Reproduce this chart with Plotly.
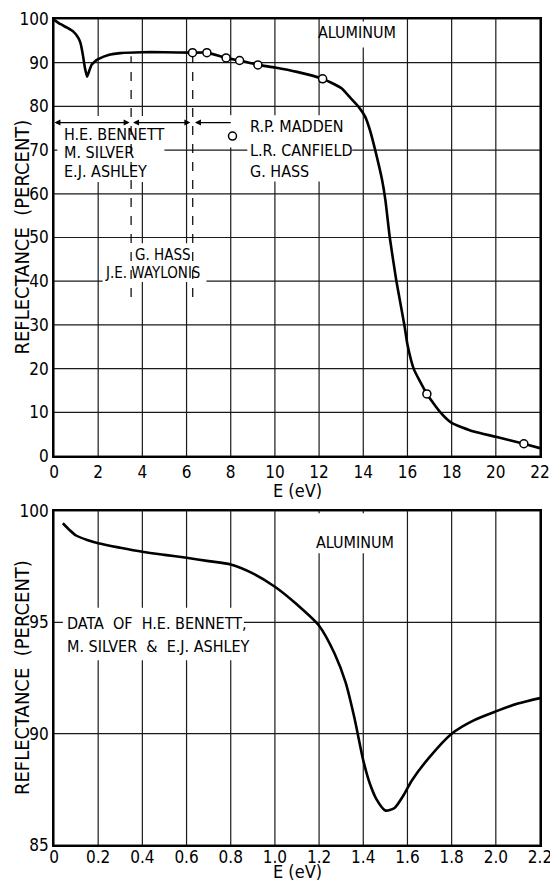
import plotly.graph_objects as go

# ---------------- data ----------------
# Upper panel: reflectance of aluminum vs photon energy (0-22 eV)
top_E = [0, 0.3, 0.6, 0.9, 1.1, 1.2, 1.3, 1.4, 1.5, 1.6, 1.7, 1.85, 2.0, 2.5, 3.0, 4.0, 5.0,
         6.27, 6.92, 7.79, 8.40, 9.23, 10, 11, 12.16, 12.6, 13.03, 13.41, 13.79, 14.09, 14.3,
         14.54, 14.85, 15.0, 15.2, 15.5, 15.86, 16.0, 16.28, 16.88, 17.49, 18, 19, 20, 21.27, 22]
top_R = [99.8, 98.8, 98.0, 97.0, 95.7, 94.5, 92.0, 88.8, 86.8, 88.2, 89.5, 90.3, 90.8, 91.8,
         92.2, 92.4, 92.4, 92.3, 92.3, 91.1, 90.5, 89.5, 88.9, 87.9, 86.3, 85.3, 84.1, 82.0,
         79.9, 77.6, 74.6, 70.0, 63.2, 58.6, 50, 40, 30, 25.5, 20, 14.2, 10, 7.6, 5.6, 4.4,
         2.8, 1.8]
# measured points (Madden, Canfield, Hass)
pts_E = [6.27, 6.92, 7.79, 8.40, 9.23, 12.16, 16.88, 21.27]
pts_R = [92.3, 92.3, 91.1, 90.5, 89.5, 86.3, 14.2, 2.8]
key_E = [8.08]
key_R = [73.2]

# Lower panel: 0-2.2 eV detail (Bennett, Silver, Ashley)
bot_E = [0.04, 0.07, 0.1, 0.15, 0.2, 0.3, 0.4, 0.5, 0.6, 0.7, 0.8, 0.9, 1.0, 1.1, 1.2, 1.27,
         1.32, 1.36, 1.4, 1.43, 1.46, 1.5, 1.54, 1.58, 1.62, 1.7, 1.8, 1.9, 2.0, 2.1, 2.2]
bot_R = [99.45, 99.15, 98.9, 98.7, 98.55, 98.35, 98.17, 98.03, 97.9, 97.75, 97.6, 97.2, 96.6,
         95.8, 94.85, 93.6, 92.3, 90.7, 88.8, 87.75, 87.05, 86.55, 86.65, 87.2, 87.9, 88.95,
         90.0, 90.6, 91.0, 91.35, 91.6]

top_xrange = [0, 22]
top_yrange = [0, 100]
bot_xrange = [0, 2.2]
bot_yrange = [85, 100]
top_xticks = list(range(0, 23, 2))
top_yticks = list(range(0, 101, 10))
bot_xticks = [0, 0.2, 0.4, 0.6, 0.8, 1.0, 1.2, 1.4, 1.6, 1.8, 2.0, 2.2]
bot_xlabels = ["0", "0.2", "0.4", "0.6", "0.8", "1.0", "1.2", "1.4", "1.6", "1.8", "2.0", "2.2"]
bot_yticks = [85, 90, 95, 100]

FONT = "DejaVu Sans Condensed, Liberation Sans Narrow, Arial Narrow, sans-serif"
W, H = 550, 883

fig = go.Figure()


def grid_trace(xt, yt, xr, yr, xa, ya):
    gx, gy = [], []
    for v in xt:
        gx += [v, v, None]
        gy += [yr[0], yr[1], None]
    for v in yt:
        gx += [xr[0], xr[1], None]
        gy += [v, v, None]
    fig.add_trace(go.Scatter(x=gx, y=gy, mode="lines", xaxis=xa, yaxis=ya,
                             line=dict(color="#1a1a1a", width=1.2), connectgaps=False,
                             showlegend=False, hoverinfo="skip"))


def mask(xa, ya, x0, x1, y0, y1):
    # white patch that interrupts the grid behind lettering
    fig.add_trace(go.Scatter(x=[x0, x1, x1, x0, x0], y=[y0, y0, y1, y1, y0], mode="lines",
                             fill="toself", fillcolor="white", line=dict(width=0),
                             xaxis=xa, yaxis=ya, showlegend=False, hoverinfo="skip"))


grid_trace(top_xticks, top_yticks, top_xrange, top_yrange, "x", "y")
grid_trace(bot_xticks, bot_yticks, bot_xrange, bot_yrange, "x2", "y2")

mask("x", "y", 0.15, 5.0, 62.7, 77.8)
mask("x", "y", 7.8, 8.45, 70.6, 78.0)
mask("x", "y", 8.75, 13.5, 62.8, 78.0)
mask("x", "y", 12.2, 15.6, 93.5, 99.4)
mask("x", "y", 2.2, 6.9, 39.8, 48.7)
mask("x2", "y2", 1.17, 1.56, 98.1, 99.9)
mask("x2", "y2", 0.04, 0.86, 93.3, 95.65)

# dashed range markers
dash_x = [3.49, 3.49, None, 6.28, 6.28]
dash_y = [36.4, 91.5, None, 36.4, 91.5]
fig.add_trace(go.Scatter(x=dash_x, y=dash_y, mode="lines", xaxis="x", yaxis="y",
                         line=dict(color="black", width=1.2, dash="dash"),
                         showlegend=False, hoverinfo="skip"))

fig.add_trace(go.Scatter(x=top_E, y=top_R, mode="lines", xaxis="x", yaxis="y",
                         line=dict(color="black", width=2.6, shape="spline", smoothing=0.5),
                         showlegend=False, hoverinfo="skip"))
fig.add_trace(go.Scatter(x=pts_E + key_E, y=pts_R + key_R, mode="markers", xaxis="x", yaxis="y",
                         marker=dict(symbol="circle", size=8, color="white",
                                     line=dict(color="black", width=1.5)),
                         showlegend=False, hoverinfo="skip"))
fig.add_trace(go.Scatter(x=bot_E, y=bot_R, mode="lines", xaxis="x2", yaxis="y2",
                         line=dict(color="black", width=2.6, shape="spline", smoothing=0.7),
                         showlegend=False, hoverinfo="skip"))

axis_common = dict(showgrid=False, showline=True,
                   linecolor="black", linewidth=1.6, mirror=True, ticks="", zeroline=False,
                   ticklabeloverflow="allow",
                   tickfont=dict(family=FONT, size=17, color="black"))

fig.update_layout(
    width=W, height=H, margin=dict(l=0, r=0, t=0, b=0),
    paper_bgcolor="white", plot_bgcolor="white", template="none",
    xaxis=dict(domain=[54 / W, 540 / W], range=top_xrange, tickvals=top_xticks, anchor="y",
               **axis_common),
    yaxis=dict(domain=[1 - 456 / H, 1 - 19 / H], range=top_yrange, tickvals=top_yticks,
               anchor="x", **axis_common),
    xaxis2=dict(domain=[54 / W, 540 / W], range=bot_xrange, tickvals=bot_xticks,
                ticktext=bot_xlabels, anchor="y2", ticklabelstandoff=-4, **axis_common),
    yaxis2=dict(domain=[1 - 845 / H, 1 - 511 / H], range=bot_yrange, tickvals=bot_yticks,
                anchor="x2", **axis_common),
)

ann = []
def text(xref, yref, x, y, s, size=16, xanchor="left"):
    ann.append(dict(xref=xref, yref=yref, x=x, y=y, text=s, showarrow=False,
                    xanchor=xanchor, yanchor="middle",
                    font=dict(family=FONT, size=size, color="black")))

def arrow(x_head, x_tail, y, both):
    ann.append(dict(xref="x", yref="y", axref="x", ayref="y", x=x_head, y=y, ax=x_tail, ay=y,
                    text="", showarrow=True, arrowhead=2, arrowsize=1, arrowwidth=1.2,
                    arrowcolor="black", arrowside="end+start" if both else "end",
                    standoff=0, startstandoff=0))

arrow(0.02, 3.49, 76.3, True)
arrow(3.58, 6.24, 76.3, True)
arrow(6.38, 8.07, 76.3, False)

text("x", "y", 13.73, 96.8, "ALUMINUM", 16, "center")
text("x", "y", 0.36, 73.6, "H.E. BENNETT", 16)
text("x", "y", 0.36, 69.4, "M. SILVER", 16)
text("x", "y", 0.36, 65.2, "E.J. ASHLEY", 16)
text("x", "y", 8.79, 75.3, "R.P. MADDEN", 16)
text("x", "y", 8.79, 70.0, "L.R. CANFIELD", 16)
text("x", "y", 8.79, 65.0, "G. HASS", 16)
text("x", "y", 3.58, 46.0, "G. HASS", 15)
text("x", "y", 2.22, 41.8, "J.E. WAYLONIS", 15)

text("x2", "y2", 1.363, 98.6, "ALUMINUM", 16, "center")
text("x2", "y2", 0.05, 94.97, "DATA  OF  H.E. BENNETT,", 16)
text("x2", "y2", 0.05, 93.9, "M. SILVER  &  E.J. ASHLEY", 16)

# axis titles
for yc in [237.5, 678]:
    ann.append(dict(xref="paper", yref="paper", x=22 / W, y=1 - yc / H,
                    text="REFLECTANCE  (PERCENT)", showarrow=False, textangle=-90,
                    xanchor="center", yanchor="middle",
                    font=dict(family=FONT, size=20, color="black")))
for yc in [490, 871.5]:
    ann.append(dict(xref="paper", yref="paper", x=297 / W, y=1 - yc / H,
                    text="E (eV)", showarrow=False, xanchor="center", yanchor="middle",
                    font=dict(family=FONT, size=18, color="black")))
fig.update_layout(annotations=ann)

fig.write_html("out.html")
